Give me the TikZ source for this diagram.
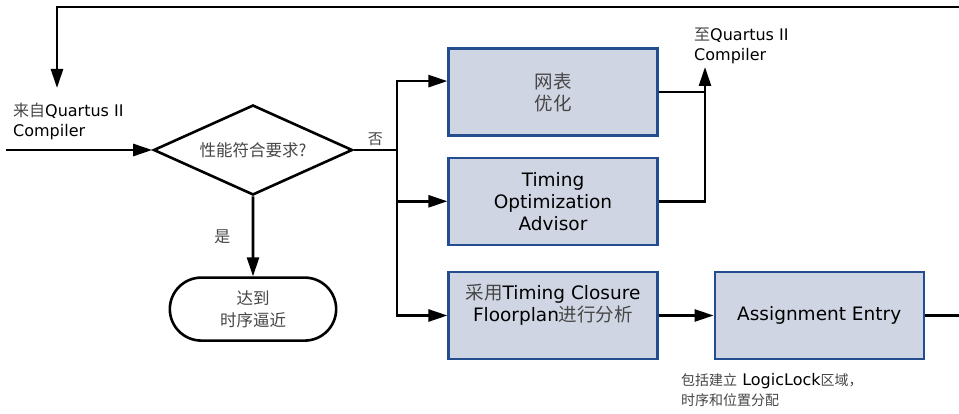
\documentclass[tikz,border=0pt]{standalone}
\usepackage{xcolor}
\usepackage{fontspec}
\setmainfont{DejaVu Sans}
\newfontfamily\cjk{Noto Sans CJK SC}
\usepackage{tikz}
\usetikzlibrary{positioning,arrows.meta,shapes.geometric,shapes.misc,calc}
\definecolor{boxfill}{RGB}{207,213,227}
\definecolor{boxline}{RGB}{36,76,145}
\definecolor{cjkgray}{RGB}{70,70,70}
\newcommand{\zhtxt}[1]{{\cjk\color{cjkgray}#1}}
\newcommand{\zhsmall}[1]{{\cjk\color{cjkgray}\fontsize{14}{20}\selectfont #1}}
\tikzset{
  box/.style      = {draw=boxline, fill=boxfill, line width=2.2pt, align=center,
                     minimum width=209pt, minimum height=87pt, inner sep=4pt,
                     font=\fontsize{18.5}{22}\selectfont},
  decision/.style = {diamond, draw, line width=2.6pt, shape aspect=2.2,
                     minimum width=199pt, minimum height=90pt, inner sep=0pt,
                     align=center, font=\fontsize{16.5}{20}\selectfont},
  term/.style     = {rounded rectangle, draw, line width=2.6pt, minimum width=173pt,
                     minimum height=63pt, align=center, font=\fontsize{16.5}{22}\selectfont},
  lbl/.style      = {align=left, inner sep=0pt, font=\fontsize{16}{20}\selectfont},
  flow/.style     = {-{Triangle[length=19pt,width=12pt]}, line width=2.6pt},
  wire/.style     = {line width=2.6pt},
}
\begin{document}
\begin{tikzpicture}
  \useasboundingbox (0,0) rectangle (959pt,-414pt);
  % decision and end
  \node[decision] (perf) at (253pt,-150pt) {\zhtxt{性能符合要求?}};
  \node[term, below=80pt of perf] (stop) {\zhtxt{达到}\\ \zhtxt{时序逼近}};
  % boxes
  \node[box] (floorplan) at (553pt,-315.5pt) {\zhtxt{采用}Timing Closure\\ Floorplan\zhtxt{进行分析}\\[4pt]};
  \node[box, right=55pt of floorplan] (assign) {Assignment Entry};
  \node[box, above=25pt of floorplan] (advisor) {Timing\\ Optimization\\ Advisor};
  \node[box, above=20pt of advisor] (netopt) {\zhtxt{网表}\\ \zhtxt{优化}};
  % labels
  \node[lbl, anchor=north west] (fromq) at (13pt,-103pt) {\zhtxt{来自}Quartus II\\ Compiler};
  \node[lbl, anchor=north west] (toq) at (694pt,-28pt) {\zhtxt{至}Quartus II\\ Compiler};
  \node[lbl, anchor=north west] (note) at (681pt,-373pt)
    {\zhsmall{包括建立} LogicLock\zhsmall{区域，}\\ \zhsmall{时序和位置分配}};
  % free ends
  \coordinate (inL) at (6pt,-150pt);
  \coordinate (loopR) at (959pt,-7pt);
  \coordinate (fromtip) at (57pt,-88pt);
  \coordinate (outR) at (959pt,-315.5pt);
  \coordinate (tocomp) at (705pt,-67pt);
  \coordinate[right=43pt of perf.east] (split);
  % connectors
  \draw[flow] (loopR) -| (fromtip);
  \draw[flow] (inL) -- (perf);
  \draw[flow] (perf) -- node[left=18pt, font=\fontsize{16}{20}\selectfont]{\zhtxt{是}} (stop);
  \draw[wire] (perf.east) -- node[above, font=\fontsize{15}{20}\selectfont]{\zhtxt{否}} (split);
  \draw[flow] (split) |- ([yshift=11pt]netopt.west);
  \draw[flow] (split) |- (advisor.west);
  \draw[flow] (split) |- (floorplan.west);
  \draw[wire] (netopt.east) -- (netopt.east -| tocomp);
  \draw[flow] (advisor.east) -| (tocomp);
  \draw[flow] (floorplan) -- (assign);
  \draw[wire] (assign.east) -- (outR);
\end{tikzpicture}
\end{document}
